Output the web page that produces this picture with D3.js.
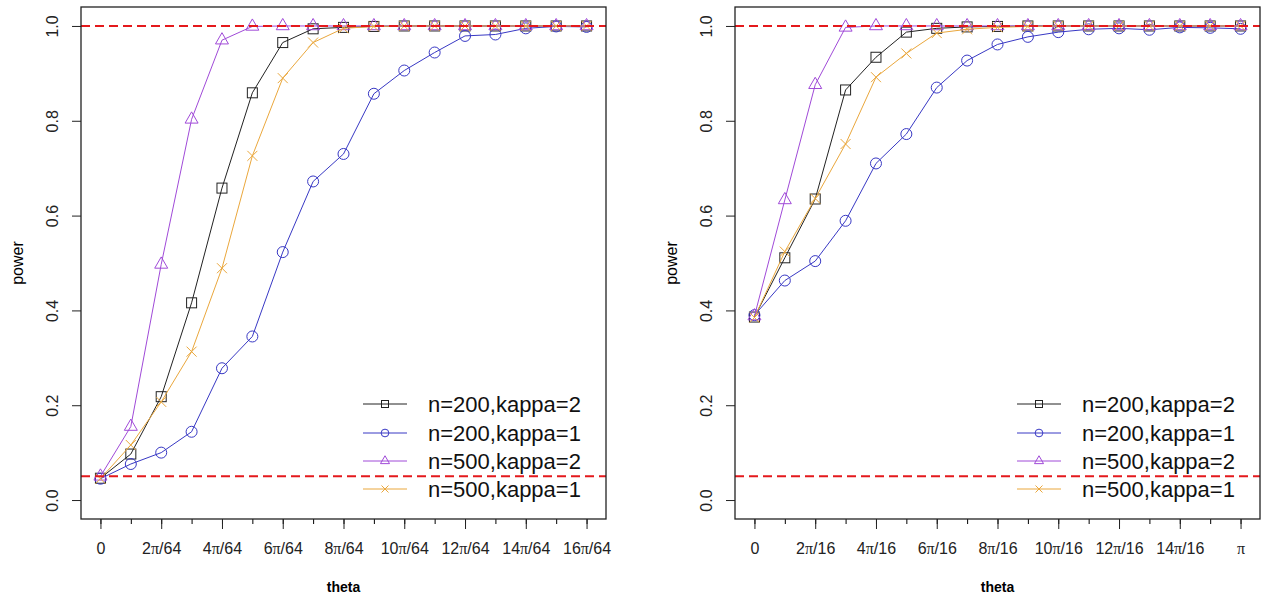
<!DOCTYPE html>
<html>
<head>
<meta charset="utf-8">
<script src="https://cdn.jsdelivr.net/npm/d3@7"></script>
<style>
  body { margin: 0; background: #fff; }
  svg { font-family: "Liberation Sans", Arial, sans-serif; }
</style>
</head>
<body>
<div id="chart"></div>
<script>
// theta index positions (k * step)
const thetaIdx = [0, 1, 2, 3, 4, 5, 6, 7, 8, 9, 10, 11, 12, 13, 14, 15, 16];
const yTicks = [0, 0.2, 0.4, 0.6, 0.8, 1.0];
const refLines = [0.05, 1.0];

const leftLabels = ["0", "2π/64", "4π/64", "6π/64", "8π/64", "10π/64", "12π/64", "14π/64", "16π/64"];
const rightLabels = ["0", "2π/16", "4π/16", "6π/16", "8π/16", "10π/16", "12π/16", "14π/16", "π"];

const seriesNames = ["n=200,kappa=2", "n=200,kappa=1", "n=500,kappa=2", "n=500,kappa=1"];

// left panel power values
const left_n200k2 = [0.046, 0.097, 0.218, 0.416, 0.658, 0.859, 0.965, 0.994, 0.997, 0.999, 1, 1, 1, 1, 1, 1, 1];
const left_n200k1 = [0.045, 0.076, 0.100, 0.144, 0.278, 0.345, 0.523, 0.672, 0.730, 0.857, 0.906, 0.944, 0.979, 0.982, 0.995, 0.999, 0.998];
const left_n500k2 = [0.050, 0.155, 0.497, 0.803, 0.970, 0.999, 1, 1, 1, 1, 1, 1, 1, 1, 1, 1, 1];
const left_n500k1 = [0.045, 0.116, 0.207, 0.313, 0.489, 0.726, 0.890, 0.965, 0.995, 0.999, 1, 1, 1, 1, 1, 1, 1];

// right panel power values
const right_n200k2 = [0.386, 0.511, 0.635, 0.865, 0.934, 0.987, 0.995, 0.998, 0.999, 1, 1, 1, 1, 1, 1, 1, 1];
const right_n200k1 = [0.390, 0.463, 0.504, 0.589, 0.710, 0.772, 0.870, 0.927, 0.961, 0.977, 0.987, 0.993, 0.995, 0.992, 0.997, 0.996, 0.994];
const right_n500k2 = [0.388, 0.633, 0.876, 0.997, 1, 1, 1, 1, 1, 1, 1, 1, 1, 1, 1, 1, 1];
const right_n500k1 = [0.385, 0.524, 0.636, 0.751, 0.892, 0.942, 0.985, 0.993, 0.997, 0.999, 1, 1, 1, 1, 1, 1, 1];

const colors = ["#222222", "#3838c4", "#a04ad8", "#eaa73c"];
const shapes = ["square", "circle", "triangle", "cross"];

const svg = d3.select("#chart").append("svg")
  .attr("width", 1272)
  .attr("height", 599);

//Draw one R style marker
function marker(g, shape, cx, cy, s, color) {
  if (shape == "square") {
    g.append("rect").attr("x", cx - s).attr("y", cy - s)
      .attr("width", 2 * s).attr("height", 2 * s)
      .attr("fill", "none").attr("stroke", color);
  } else if (shape == "circle") {
    g.append("circle").attr("cx", cx).attr("cy", cy).attr("r", s * 1.1)
      .attr("fill", "none").attr("stroke", color);
  } else if (shape == "triangle") {
    const r = s * 1.5;
    const xc = r * Math.sqrt(3) / 2;
    g.append("path")
      .attr("d", `M${cx},${cy - r}L${cx + xc},${cy + r / 2}L${cx - xc},${cy + r / 2}Z`)
      .attr("fill", "none").attr("stroke", color);
  } else {
    g.append("path")
      .attr("d", `M${cx - s},${cy - s}L${cx + s},${cy + s}M${cx - s},${cy + s}L${cx + s},${cy - s}`)
      .attr("fill", "none").attr("stroke", color);
  }
}

function drawPanel(left, right, labels, data, legendX) {
  const top = 7, bottom = 519;
  const x = d3.scaleLinear().domain([-0.64, 16.64]).range([left, right]);
  const y = d3.scaleLinear().domain([-0.04, 1.04]).range([bottom, top]);
  const g = svg.append("g");

  //minor ticks at every step
  g.append("g")
    .attr("transform", "translate(0," + bottom + ")")
    .call(d3.axisBottom(x).tickValues(thetaIdx).tickSize(5).tickFormat(""))
    .call((a) => a.select(".domain").remove());

  //major ticks with labels
  const xAxis = g.append("g")
    .attr("transform", "translate(0," + bottom + ")")
    .call(d3.axisBottom(x).tickValues(thetaIdx.filter((d) => d % 2 == 0)).tickSize(10))
    .call((a) => a.select(".domain").remove());
  xAxis.selectAll("line").attr("stroke", "#222");
  xAxis.selectAll(".tick text")
    .attr("y", 35).attr("dy", null)
    .style("font-size", "16px").attr("fill", "#222")
    .each(function (d) {
      const t = d3.select(this);
      const lab = labels[d / 2];
      t.text(null);
      lab.split(/(π)/).forEach((part) => {
        if (!part) return;
        t.append("tspan").text(part)
          .style("font-family", part == "π" ? "Liberation Serif, serif" : null);
      });
    });

  const yAxis = g.append("g")
    .attr("transform", "translate(" + left + ",0)")
    .call(d3.axisLeft(y).tickValues(yTicks).tickSize(9).tickFormat(d3.format(".1f")))
    .call((a) => a.select(".domain").remove());
  yAxis.selectAll("line").attr("stroke", "#222");
  yAxis.selectAll(".tick text")
    .attr("transform", "rotate(-90)")
    .attr("x", 0).attr("y", -29).attr("dy", "0.35em")
    .attr("text-anchor", "middle")
    .style("font-size", "16px").attr("fill", "#222");

  //axis titles
  g.append("text")
    .attr("x", (left + right) / 2).attr("y", 592)
    .attr("text-anchor", "middle")
    .style("font-size", "14px").style("font-weight", "bold")
    .text("theta");
  g.append("text")
    .attr("transform", "translate(" + (left - 64) + "," + (top + bottom) / 2 + ") rotate(-90)")
    .attr("text-anchor", "middle").attr("dy", "0.35em")
    .style("font-size", "16px")
    .text("power");

  //series lines and points
  const line = d3.line().x((d, i) => x(thetaIdx[i])).y((d) => y(d));
  data.forEach((vals, k) => {
    g.append("path").datum(vals)
      .attr("d", line).attr("fill", "none")
      .attr("stroke", colors[k]).attr("stroke-width", 1);
    const pg = g.append("g");
    vals.forEach((v, i) => marker(pg, shapes[k], x(thetaIdx[i]), y(v), 5, colors[k]));
  });

  //legend
  const rowY = [404, 433, 461, 489];
  seriesNames.forEach((name, k) => {
    const lg = g.append("g");
    lg.append("line")
      .attr("x1", legendX).attr("x2", legendX + 44)
      .attr("y1", rowY[k]).attr("y2", rowY[k])
      .attr("stroke", colors[k]);
    marker(lg, shapes[k], legendX + 22, rowY[k], 3.5, colors[k]);
    lg.append("text")
      .attr("x", legendX + 65).attr("y", rowY[k]).attr("dy", "0.36em")
      .style("font-size", "22px").attr("fill", "#111")
      .text(name);
  });

  //reference lines
  refLines.forEach((r) => {
    g.append("line")
      .attr("x1", left).attr("x2", right)
      .attr("y1", y(r)).attr("y2", y(r))
      .attr("stroke", "#e4191c").attr("stroke-width", 2)
      .attr("stroke-dasharray", "9,5");
  });

  //plot box
  g.append("rect")
    .attr("x", left).attr("y", top)
    .attr("width", right - left).attr("height", bottom - top)
    .attr("fill", "none").attr("stroke", "#222").attr("stroke-width", 1.3);
}

drawPanel(81, 606, leftLabels, [left_n200k2, left_n200k1, left_n500k2, left_n500k1], 363);
drawPanel(735, 1260, rightLabels, [right_n200k2, right_n200k1, right_n500k2, right_n500k1], 1017);
</script>
</body>
</html>
